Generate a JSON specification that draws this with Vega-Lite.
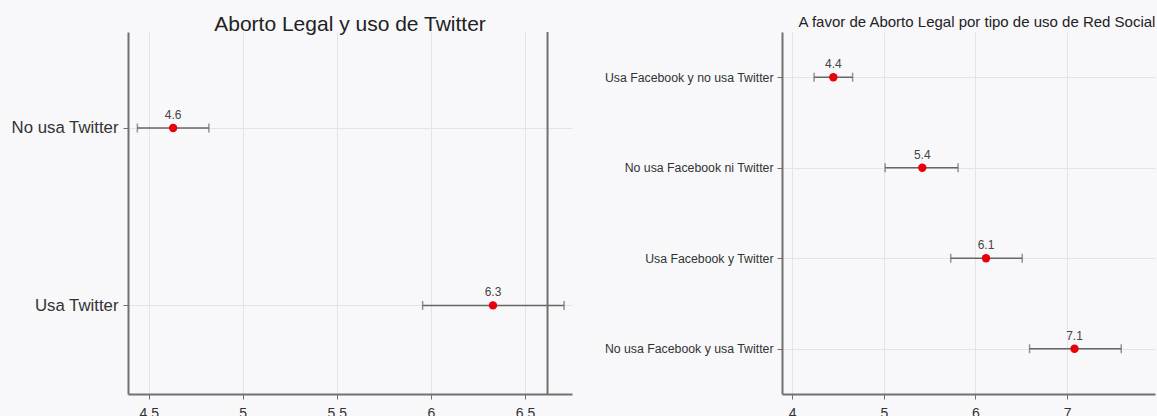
{
  "$schema": "https://vega.github.io/schema/vega-lite/v6.json",
  "background": "#f8f8fa",
  "padding": {"left": 10, "top": 14, "right": 0, "bottom": 0},
  "spacing": 32,
  "config": {
    "view": {"stroke": null},
    "font": "Liberation Sans",
    "axis": {
      "gridColor": "#e4e4e8",
      "gridWidth": 1,
      "domainColor": "#707070",
      "domainWidth": 2,
      "tickColor": "#707070",
      "labelColor": "#333333",
      "labelFont": "Liberation Sans"
    },
    "title": {"font": "Liberation Sans", "color": "#222222", "fontWeight": "normal"}
  },
  "datasets": {
    "twitter": [
      {"grupo": "No usa Twitter", "media": 4.63, "lo": 4.44, "hi": 4.82, "etiqueta": "4.6"},
      {"grupo": "Usa Twitter", "media": 6.33, "lo": 5.956, "hi": 6.708, "etiqueta": "6.3"}
    ],
    "red": [
      {"grupo": "Usa Facebook y no usa Twitter", "media": 4.45, "lo": 4.24, "hi": 4.66, "etiqueta": "4.4"},
      {"grupo": "No usa Facebook ni Twitter", "media": 5.42, "lo": 5.015, "hi": 5.81, "etiqueta": "5.4"},
      {"grupo": "Usa Facebook y Twitter", "media": 6.115, "lo": 5.73, "hi": 6.51, "etiqueta": "6.1"},
      {"grupo": "No usa Facebook y usa Twitter", "media": 7.08, "lo": 6.59, "hi": 7.59, "etiqueta": "7.1"}
    ],
    "referencia": [
      {"ref": 6.62}
    ]
  },
  "hconcat": [
    {
      "width": 444,
      "height": 362,
      "title": {"text": "Aborto Legal y uso de Twitter", "fontSize": 21, "offset": -21, "baseline": "alphabetic"},
      "layer": [
        {
          "data": {"name": "twitter"},
          "mark": {"type": "rule", "color": "#666666", "strokeWidth": 1.5},
          "encoding": {
            "y": {"field": "grupo", "type": "nominal", "sort": ["No usa Twitter", "Usa Twitter"],
                  "scale": {"type": "point", "padding": 0.52, "align": 0.52},
                  "axis": {"title": null, "labelFontSize": 16.8, "tickSize": 5, "labelPadding": 5, "grid": true}},
            "x": {"field": "lo", "type": "quantitative",
                  "scale": {"domain": [4.39, 6.75], "nice": false, "zero": false},
                  "axis": {"title": null, "values": [4.5, 5, 5.5, 6, 6.5], "format": "~g", "labelFontSize": 14, "tickSize": 5, "labelPadding": 7, "grid": true, "labelFlush": false}},
            "x2": {"field": "hi"}
          }
        },
        {
          "data": {"name": "twitter"},
          "mark": {"type": "tick", "color": "#666666", "thickness": 1.5, "size": 9},
          "encoding": {
            "y": {"field": "grupo", "type": "nominal", "sort": ["No usa Twitter", "Usa Twitter"]},
            "x": {"field": "lo", "type": "quantitative"}
          }
        },
        {
          "data": {"name": "twitter"},
          "mark": {"type": "tick", "color": "#666666", "thickness": 1.5, "size": 9},
          "encoding": {
            "y": {"field": "grupo", "type": "nominal", "sort": ["No usa Twitter", "Usa Twitter"]},
            "x": {"field": "hi", "type": "quantitative"}
          }
        },
        {
          "data": {"name": "twitter"},
          "mark": {"type": "point", "filled": true, "color": "#e8000b", "size": 70, "opacity": 1},
          "encoding": {
            "y": {"field": "grupo", "type": "nominal", "sort": ["No usa Twitter", "Usa Twitter"]},
            "x": {"field": "media", "type": "quantitative"}
          }
        },
        {
          "data": {"name": "twitter"},
          "mark": {"type": "text", "dy": -13, "fontSize": 12, "color": "#444444"},
          "encoding": {
            "y": {"field": "grupo", "type": "nominal", "sort": ["No usa Twitter", "Usa Twitter"]},
            "x": {"field": "media", "type": "quantitative"},
            "text": {"field": "etiqueta", "type": "nominal"}
          }
        },
        {
          "data": {"name": "referencia"},
          "mark": {"type": "rule", "color": "#707070", "strokeWidth": 2},
          "encoding": {
            "x": {"field": "ref", "type": "quantitative"}
          }
        }
      ]
    },
    {
      "width": 373,
      "height": 362,
      "title": {"text": "A favor de Aborto Legal por tipo de uso de Red Social", "fontSize": 15, "offset": -10, "baseline": "alphabetic", "dx": 8.5},
      "data": {"name": "red"},
      "layer": [
        {
          "mark": {"type": "rule", "color": "#666666", "strokeWidth": 1.5},
          "encoding": {
            "y": {"field": "grupo", "type": "nominal",
                  "sort": ["Usa Facebook y no usa Twitter", "No usa Facebook ni Twitter", "Usa Facebook y Twitter", "No usa Facebook y usa Twitter"],
                  "scale": {"type": "point", "padding": 0.5},
                  "axis": {"title": null, "labelFontSize": 12.3, "tickSize": 5, "labelPadding": 4, "grid": true}},
            "x": {"field": "lo", "type": "quantitative",
                  "scale": {"domain": [3.89, 7.958], "nice": false, "zero": false},
                  "axis": {"title": null, "values": [4, 5, 6, 7], "format": "~g", "labelFontSize": 14, "tickSize": 5, "labelPadding": 7, "grid": true, "labelFlush": false}},
            "x2": {"field": "hi"}
          }
        },
        {
          "mark": {"type": "tick", "color": "#666666", "thickness": 1.5, "size": 9},
          "encoding": {
            "y": {"field": "grupo", "type": "nominal", "sort": ["Usa Facebook y no usa Twitter", "No usa Facebook ni Twitter", "Usa Facebook y Twitter", "No usa Facebook y usa Twitter"]},
            "x": {"field": "lo", "type": "quantitative"}
          }
        },
        {
          "mark": {"type": "tick", "color": "#666666", "thickness": 1.5, "size": 9},
          "encoding": {
            "y": {"field": "grupo", "type": "nominal", "sort": ["Usa Facebook y no usa Twitter", "No usa Facebook ni Twitter", "Usa Facebook y Twitter", "No usa Facebook y usa Twitter"]},
            "x": {"field": "hi", "type": "quantitative"}
          }
        },
        {
          "mark": {"type": "point", "filled": true, "color": "#e8000b", "size": 70, "opacity": 1},
          "encoding": {
            "y": {"field": "grupo", "type": "nominal", "sort": ["Usa Facebook y no usa Twitter", "No usa Facebook ni Twitter", "Usa Facebook y Twitter", "No usa Facebook y usa Twitter"]},
            "x": {"field": "media", "type": "quantitative"}
          }
        },
        {
          "mark": {"type": "text", "dy": -13, "fontSize": 12, "color": "#444444"},
          "encoding": {
            "y": {"field": "grupo", "type": "nominal", "sort": ["Usa Facebook y no usa Twitter", "No usa Facebook ni Twitter", "Usa Facebook y Twitter", "No usa Facebook y usa Twitter"]},
            "x": {"field": "media", "type": "quantitative"},
            "text": {"field": "etiqueta", "type": "nominal"}
          }
        }
      ]
    }
  ]
}
